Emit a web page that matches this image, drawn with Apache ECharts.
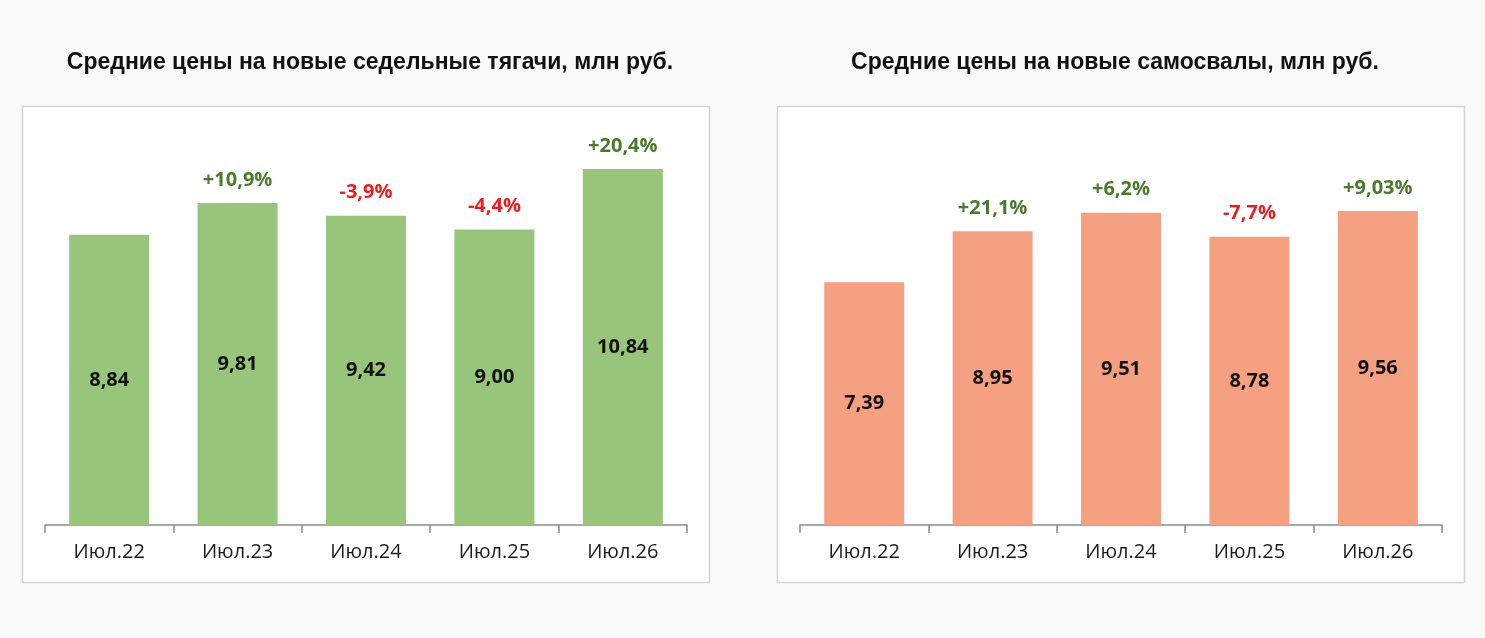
<!DOCTYPE html>
<html>
<head>
<meta charset="utf-8">
<script src="https://cdn.jsdelivr.net/npm/echarts@6/dist/echarts.min.js"></script>
<style>
  html, body { margin: 0; padding: 0; background: #f9f9f9; }
  #chart { width: 1485px; height: 638px; }
</style>
</head>
<body>
<div id="chart"></div>
<script>
// data
const categories = ['Июл.22', 'Июл.23', 'Июл.24', 'Июл.25', 'Июл.26'];
const tractorPrices = [8.84, 9.81, 9.42, 9.00, 10.84];
const tractorChange = ['', '+10,9%', '-3,9%', '-4,4%', '+20,4%'];
const dumpPrices = [7.39, 8.95, 9.51, 8.78, 9.56];
const dumpChange = ['', '+21,1%', '+6,2%', '-7,7%', '+9,03%'];

const GREEN_BAR = '#97c67a';
const ORANGE_BAR = '#f4a081';
const UP = '#4a7a2c';
const DOWN = '#ee1c1c';

const fmt = v => v.toFixed(2).replace('.', ',');

const chart = echarts.init(document.getElementById('chart'), null, { renderer: 'canvas' });

function panel(idx, left, prices, changes, color) {
  const grid = { left: left, top: 131, width: 642, height: 394 };
  const xAxis = {
    type: 'category', gridIndex: idx, data: categories,
    axisLine: { lineStyle: { color: '#8c8c8c', width: 1.5 } },
    axisTick: { show: true, length: 8, lineStyle: { color: '#8c8c8c', width: 1.5 } },
    axisLabel: { color: '#1a1a1a', fontSize: 20, fontFamily: 'Open Sans', margin: 17 }
  };
  const yAxis = { type: 'value', gridIndex: idx, min: 0, max: 12, show: false, splitLine: { show: false } };
  const bars = {
    type: 'bar', xAxisIndex: idx, yAxisIndex: idx, data: prices, barWidth: 80,
    itemStyle: { color: color },
    label: {
      show: true, position: 'inside', formatter: p => fmt(p.value),
      color: '#111', fontSize: 20, fontWeight: 'bold', fontFamily: 'Open Sans'
    },
    silent: true
  };
  // transparent copy of the bars that carries the change labels, coloured by sign
  const tops = {
    type: 'bar', xAxisIndex: idx, yAxisIndex: idx, barWidth: 80, barGap: '-100%',
    data: prices.map((v, i) => ({
      value: v,
      label: { color: changes[i].startsWith('-') ? DOWN : UP }
    })),
    itemStyle: { color: 'rgba(0,0,0,0)' },
    label: {
      show: true, position: 'top', distance: 13,
      formatter: p => changes[p.dataIndex],
      fontSize: 20, fontWeight: 'bold', fontFamily: 'Open Sans'
    },
    silent: true
  };
  return { grid, xAxis, yAxis, series: [bars, tops] };
}

const a = panel(0, 45, tractorPrices, tractorChange, GREEN_BAR);
const b = panel(1, 800, dumpPrices, dumpChange, ORANGE_BAR);

const titleStyle = { fontSize: 23, fontWeight: 'bold', color: '#111', fontFamily: 'Liberation Sans' };

chart.setOption({
  backgroundColor: '#f9f9f9',
  animation: false,
  title: [
    { text: 'Средние цены на новые седельные тягачи, млн руб.', left: 365, top: 46, textAlign: 'center', textStyle: titleStyle },
    { text: 'Средние цены на новые самосвалы, млн руб.', left: 1110, top: 46, textAlign: 'center', textStyle: titleStyle }
  ],
  graphic: [
    { type: 'rect', z: -1, shape: { x: 22.5, y: 106.5, width: 687, height: 476 },
      style: { fill: '#fff', stroke: '#d4d4d4', lineWidth: 1.5 } },
    { type: 'rect', z: -1, shape: { x: 777.5, y: 106.5, width: 687, height: 476 },
      style: { fill: '#fff', stroke: '#d4d4d4', lineWidth: 1.5 } }
  ],
  grid: [a.grid, b.grid],
  xAxis: [a.xAxis, b.xAxis],
  yAxis: [a.yAxis, b.yAxis],
  series: [...a.series, ...b.series]
});
</script>
</body>
</html>
